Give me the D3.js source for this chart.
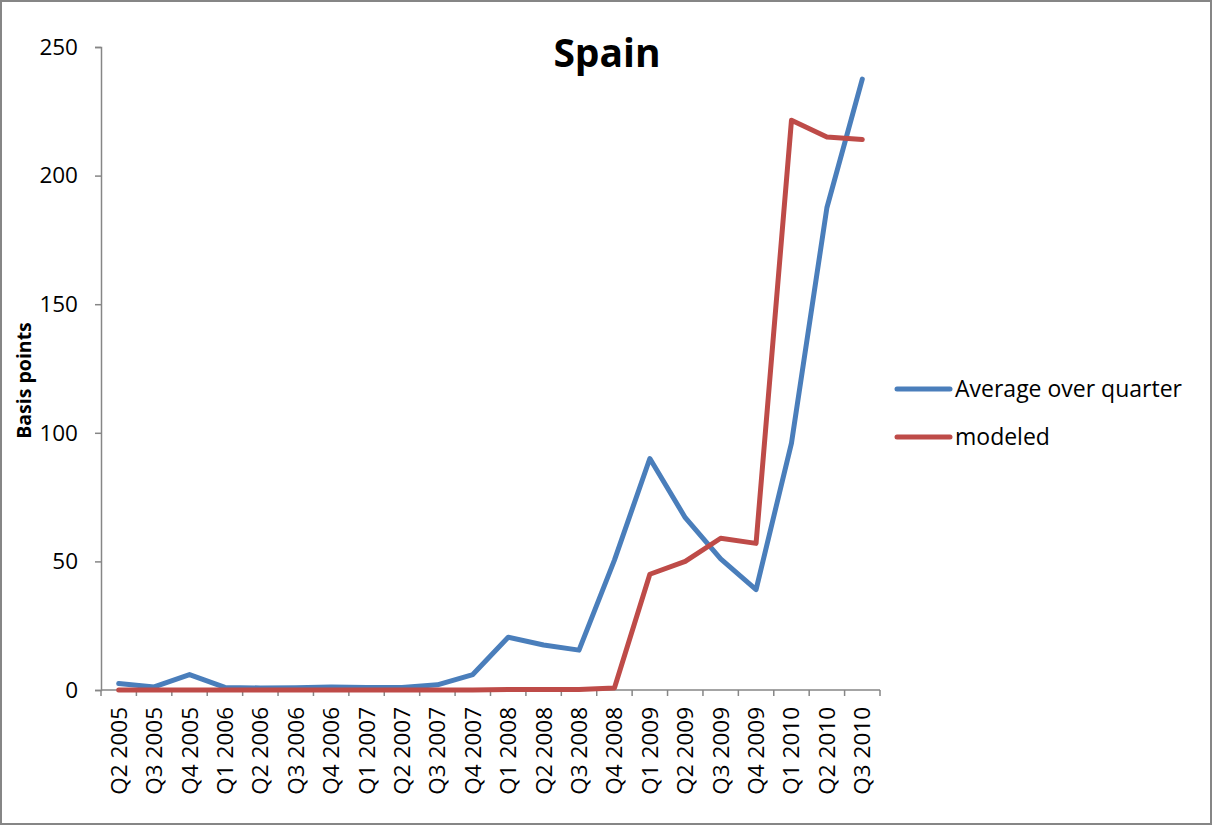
<!DOCTYPE html>
<html>
<head>
<meta charset="utf-8">
<script src="https://cdn.jsdelivr.net/npm/d3@7"></script>
<style>
  body { margin: 0; background: #fff; }
  svg { display: block; font-family: "Open Sans", sans-serif; }
</style>
</head>
<body>
<svg id="chart" width="1212" height="825"></svg>
<script>
// quarters on the x axis
const quarters = ['Q2 2005', 'Q3 2005', 'Q4 2005', 'Q1 2006', 'Q2 2006', 'Q3 2006', 'Q4 2006',
    'Q1 2007', 'Q2 2007', 'Q3 2007', 'Q4 2007', 'Q1 2008', 'Q2 2008', 'Q3 2008', 'Q4 2008',
    'Q1 2009', 'Q2 2009', 'Q3 2009', 'Q4 2009', 'Q1 2010', 'Q2 2010', 'Q3 2010'];

const averageOverQuarter = [2.5, 1.2, 6, 1, 0.8, 0.9, 1.2, 1, 1, 2, 6, 20.5, 17.5, 15.5, 50.5,
    90, 67, 51, 39, 96, 187.5, 237.5];

const modeled = [0, 0, 0, 0, 0, 0, 0, 0, 0, 0, 0, 0.2, 0.2, 0.2, 0.8,
    45, 50, 59, 57, 221.5, 215, 214];

const yTicks = [0, 50, 100, 150, 200, 250];

const seriesNames = ['Average over quarter', 'modeled'];
const seriesColors = ['#4a7ebb', '#be4b48'];

const svg = d3.select('#chart');
const width = +svg.attr('width');
const height = +svg.attr('height');
const margin = { top: 47, right: 332, bottom: 135, left: 101 };

// outer frame
svg.append('rect')
    .attr('x', 1).attr('y', 1)
    .attr('width', width - 2).attr('height', height - 2)
    .attr('fill', '#fff')
    .attr('stroke', '#868686')
    .attr('stroke-width', 2);

const xScale = d3.scaleBand()
    .domain(quarters)
    .range([margin.left, width - margin.right]);

const yScale = d3.scaleLinear()
    .domain([0, 250])
    .range([height - margin.bottom, margin.top]);

// x axis: ticks at category boundaries
const xAxisG = svg.append('g')
    .attr('transform', `translate(0, ${height - margin.bottom})`);

xAxisG.append('line')
    .attr('x1', margin.left).attr('x2', width - margin.right)
    .attr('stroke', '#868686').attr('stroke-width', 1.5);

xAxisG.selectAll('.tick')
    .data(quarters.concat(['end']))
    .enter().append('line')
    .attr('x1', (d, i) => i < quarters.length ? xScale(d) : width - margin.right)
    .attr('x2', (d, i) => i < quarters.length ? xScale(d) : width - margin.right)
    .attr('y1', 0).attr('y2', 6)
    .attr('stroke', '#868686').attr('stroke-width', 1.5);

xAxisG.selectAll('.label')
    .data(quarters)
    .enter().append('text')
    .attr('transform', d => `translate(${xScale(d) + xScale.bandwidth() / 2 + 8}, 17) rotate(-90)`)
    .attr('text-anchor', 'end')
    .attr('font-size', 22.5)
    .attr('fill', '#000')
    .text(d => d);

// y axis
const yAxis = d3.axisLeft(yScale)
    .tickValues(yTicks)
    .tickSize(6)
    .tickPadding(17);

const yAxisG = svg.append('g')
    .attr('transform', `translate(${margin.left}, 0)`)
    .call(yAxis);

yAxisG.select('.domain').attr('stroke', '#868686').attr('stroke-width', 1.5);
yAxisG.selectAll('.tick line').attr('stroke', '#868686').attr('stroke-width', 1.5);
yAxisG.selectAll('.tick text')
    .attr('font-size', 22.5)
    .attr('font-family', '"Open Sans", sans-serif')
    .attr('fill', '#000');

svg.append('text')
    .attr('transform', `translate(31, ${yScale(125) + 12}) rotate(-90)`)
    .attr('text-anchor', 'middle')
    .attr('font-size', 19.5)
    .attr('font-weight', 'bold')
    .text('Basis points');

// title
svg.append('text')
    .attr('x', 607)
    .attr('y', 67)
    .attr('text-anchor', 'middle')
    .attr('font-size', 39)
    .attr('font-weight', 'bold')
    .text('Spain');

// lines
const line = d3.line()
    .x((d, i) => xScale(quarters[i]) + xScale.bandwidth() / 2)
    .y(d => yScale(d));

[averageOverQuarter, modeled].forEach((values, k) => {
    svg.append('path')
        .datum(values)
        .attr('fill', 'none')
        .attr('stroke', seriesColors[k])
        .attr('stroke-width', 5)
        .attr('stroke-linejoin', 'round')
        .attr('stroke-linecap', 'round')
        .attr('d', line);
});

// legend
const legend = svg.append('g')
    .attr('transform', 'translate(897, 389)');

const legendItems = legend.selectAll('g')
    .data(seriesNames)
    .enter().append('g')
    .attr('transform', (d, i) => `translate(0, ${i * 48})`);

legendItems.append('line')
    .attr('x1', 0).attr('x2', 53)
    .attr('stroke', (d, i) => seriesColors[i])
    .attr('stroke-width', 5)
    .attr('stroke-linecap', 'round');

legendItems.append('text')
    .attr('x', 58)
    .attr('dy', '0.35em')
    .attr('font-size', 23)
    .attr('fill', '#000')
    .text(d => d);
</script>
</body>
</html>
